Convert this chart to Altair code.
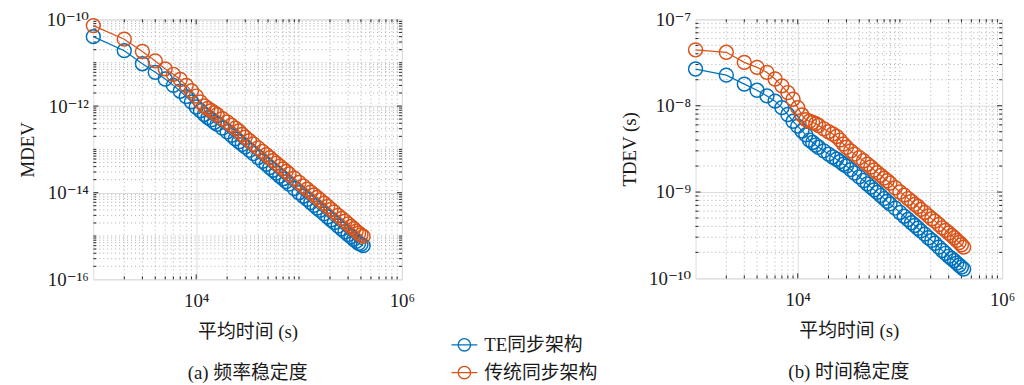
import math
import altair as alt
import pandas as pd

# ---------------- data ----------------
tau_s = [1000, 2000, 3000, 4000, 5000, 6000, 7000, 8000, 9000, 10000,
         11000, 12000, 13000, 14000, 15000, 16000, 18000, 20000, 22000, 24000,
         26000, 28000, 30000, 33000, 36000, 40000, 44000, 48000, 52000, 56000,
         60000, 65000, 70000, 75000, 80000, 90000, 100000, 110000, 120000, 130000,
         140000, 150000, 160000, 175000, 190000, 205000, 220000, 240000, 260000, 280000,
         300000, 320000, 340000, 360000, 380000, 400000, 420000]

mdev_te = [4.0e-11, 1.9e-11, 9.5e-12, 6.0e-12, 4.2e-12, 3.0e-12, 2.2e-12, 1.65e-12, 1.25e-12, 9.5e-13,
           7.8e-13, 6.4e-13, 5.4e-13, 4.8e-13, 4.2e-13, 3.8e-13, 3.1e-13, 2.55e-13, 2.1e-13, 1.75e-13,
           1.5e-13, 1.3e-13, 1.15e-13, 9.5e-14, 8.0e-14, 6.5e-14, 5.3e-14, 4.5e-14, 3.8e-14, 3.3e-14,
           2.85e-14, 2.4e-14, 2.1e-14, 1.8e-14, 1.58e-14, 1.25e-14, 1.0e-14, 8.3e-15, 7.0e-15, 5.9e-15,
           5.1e-15, 4.4e-15, 3.9e-15, 3.25e-15, 2.75e-15, 2.35e-15, 2.05e-15, 1.7e-15, 1.45e-15, 1.25e-15,
           1.08e-15, 9.6e-16, 8.4e-16, 7.5e-16, 6.8e-16, 6.4e-16, 6.0e-16]

mdev_trad = [7.2e-11, 3.5e-11, 1.82e-11, 1.1e-11, 7.2e-12, 5.4e-12, 4.1e-12, 3.0e-12, 2.25e-12, 1.7e-12,
             1.25e-12, 1.0e-12, 8.8e-13, 7.8e-13, 7.0e-13, 6.3e-13, 5.1e-13, 4.3e-13, 3.6e-13, 3.1e-13,
             2.65e-13, 2.2e-13, 1.9e-13, 1.58e-13, 1.33e-13, 1.08e-13, 9.0e-14, 7.5e-14, 6.4e-14, 5.5e-14,
             4.8e-14, 4.1e-14, 3.55e-14, 3.1e-14, 2.7e-14, 2.15e-14, 1.73e-14, 1.43e-14, 1.2e-14, 1.03e-14,
             8.9e-15, 7.8e-15, 6.8e-15, 5.7e-15, 4.8e-15, 4.1e-15, 3.6e-15, 3.0e-15, 2.55e-15, 2.2e-15,
             1.9e-15, 1.66e-15, 1.47e-15, 1.3e-15, 1.16e-15, 1.06e-15, 9.8e-16]

tdev_te = [2.66e-8, 2.26e-8, 1.78e-8, 1.51e-8, 1.30e-8, 1.13e-8, 9.5e-9, 7.9e-9, 6.6e-9, 5.8e-9,
           5.1e-9, 4.6e-9, 4.0e-9, 3.75e-9, 3.5e-9, 3.3e-9, 3.0e-9, 2.75e-9, 2.55e-9, 2.4e-9,
           2.25e-9, 2.1e-9, 2.0e-9, 1.82e-9, 1.66e-9, 1.5e-9, 1.36e-9, 1.24e-9, 1.14e-9, 1.06e-9,
           9.9e-10, 9.1e-10, 8.4e-10, 7.8e-10, 7.3e-10, 6.5e-10, 5.8e-10, 5.25e-10, 4.8e-10, 4.4e-10,
           4.1e-10, 3.8e-10, 3.55e-10, 3.25e-10, 2.95e-10, 2.75e-10, 2.55e-10, 2.3e-10, 2.1e-10, 1.95e-10,
           1.8e-10, 1.7e-10, 1.6e-10, 1.5e-10, 1.42e-10, 1.35e-10, 1.28e-10]

tdev_trad = [4.43e-8, 4.16e-8, 3.18e-8, 2.78e-8, 2.43e-8, 2.04e-8, 1.70e-8, 1.42e-8, 1.19e-8, 9.5e-9,
             7.8e-9, 6.9e-9, 6.6e-9, 6.4e-9, 6.2e-9, 5.9e-9, 5.4e-9, 5.0e-9, 4.7e-9, 4.4e-9,
             4.0e-9, 3.6e-9, 3.3e-9, 3.0e-9, 2.75e-9, 2.5e-9, 2.3e-9, 2.1e-9, 1.95e-9, 1.8e-9,
             1.68e-9, 1.56e-9, 1.45e-9, 1.35e-9, 1.27e-9, 1.12e-9, 1.0e-9, 9.2e-10, 8.4e-10, 7.8e-10,
             7.2e-10, 6.8e-10, 6.3e-10, 5.8e-10, 5.3e-10, 4.9e-10, 4.6e-10, 4.2e-10, 3.85e-10, 3.6e-10,
             3.35e-10, 3.15e-10, 2.95e-10, 2.75e-10, 2.6e-10, 2.45e-10, 2.3e-10]

series_names = ["TE同步架构", "传统同步架构"]
series_colors = ["#0072BD", "#D95319"]

x_domain = [1000, 1e6]
x_ticks = [1e4, 1e6]
left_y_domain = [1e-16, 1e-10]
left_y_ticks = [1e-16, 1e-14, 1e-12, 1e-10]
right_y_domain = [1e-10, 1e-7]
right_y_ticks = [1e-10, 1e-9, 1e-8, 1e-7]

x_title = "平均时间 (s)"
left_y_title = "MDEV"
right_y_title = "TDEV (s)"
left_caption = "(a) 频率稳定度"
right_caption = "(b) 时间稳定度"

# ---------------- helpers ----------------
FONT = "Liberation Serif, DejaVu Serif, Noto Sans CJK SC"
TXT = "#1a1a1a"
SUP = str.maketrans("-0123456789", "⁻⁰¹²³⁴⁵⁶⁷⁸⁹")


def pow_label_expr(values):
    expr = "''"
    for v in reversed(values):
        e = round(math.log10(v))
        lab = "10" + str(e).translate(SUP)
        expr = f"(abs(log(datum.value)/LN10 - ({e})) < 0.01 ? '{lab}' : {expr})"
    return expr


def minor_values(lo, hi, majors):
    out = []
    e0, e1 = round(math.log10(lo)), round(math.log10(hi))
    for e in range(e0, e1):
        for k in range(1, 10):
            v = k * 10.0 ** e
            if v <= lo * 1.0001 or v >= hi * 0.9999:
                continue
            if any(abs(math.log10(v) - math.log10(m)) < 1e-6 for m in majors):
                continue
            out.append(v)
    return out


def long_df(a, b):
    return pd.DataFrame({
        "tau": tau_s + tau_s,
        "value": a + b,
        "series": [series_names[0]] * len(tau_s) + [series_names[1]] * len(tau_s),
    })


LEG_PATH = "M-1,0L1,0M0.48,0A0.48,0.48,0,1,1,-0.48,0A0.48,0.48,0,1,1,0.48,0"

legend = alt.Legend(orient="none", legendX=360, legendY=314, title=None,
                    symbolType=LEG_PATH, symbolSize=676, symbolStrokeWidth=1.4,
                    labelFont=FONT, labelFontSize=19, labelColor=TXT, labelOffset=6,
                    rowPadding=4, padding=0)


def panel(df, y_title, y_domain, y_ticks, caption, w, h):
    xs = alt.Scale(type="log", domain=x_domain, nice=False)
    ys = alt.Scale(type="log", domain=y_domain, nice=False)
    x_axis = alt.Axis(values=x_ticks, labelExpr=pow_label_expr(x_ticks), title=x_title,
                      grid=True, gridColor="#dcdcdc", gridWidth=1, ticks=False, domain=False,
                      labelPadding=12, titlePadding=13, labelFontSize=19, titleFontSize=19,
                      labelFont=FONT, titleFont=FONT, labelColor=TXT, titleColor=TXT,
                      titleFontWeight="normal", labelFlush=False)
    y_axis = alt.Axis(values=y_ticks, labelExpr=pow_label_expr(y_ticks), title=y_title,
                      grid=True, gridColor="#dcdcdc", gridWidth=1, ticks=False, domain=False,
                      labelPadding=5, titlePadding=9, labelFontSize=19, titleFontSize=19,
                      labelFont=FONT, titleFont=FONT, labelColor=TXT, titleColor=TXT,
                      titleFontWeight="normal", labelFlush=False)

    xmin = pd.DataFrame({"v": minor_values(x_domain[0], x_domain[1], x_ticks)})
    ymin = pd.DataFrame({"v": minor_values(y_domain[0], y_domain[1], y_ticks)})
    xmaj = pd.DataFrame({"v": [t for t in x_ticks if x_domain[0] < t < x_domain[1]]})
    ymaj = pd.DataFrame({"v": [t for t in y_ticks if y_domain[0] < t < y_domain[1]]})

    grid_style = dict(strokeDash=[1, 3], color="#9a9a9a", strokeWidth=1, opacity=0.8)
    vgrid = alt.Chart(xmin).mark_rule(**grid_style).encode(x=alt.X("v:Q", scale=xs, axis=x_axis))
    hgrid = alt.Chart(ymin).mark_rule(**grid_style).encode(y=alt.Y("v:Q", scale=ys, axis=y_axis))

    tick_col = "#262626"
    ticks = []
    for data, ln in ((xmin, 3), (xmaj, 5)):
        ticks.append(alt.Chart(data).mark_rule(color=tick_col, strokeWidth=1).encode(
            x=alt.X("v:Q", scale=xs, axis=x_axis), y=alt.value(h), y2=alt.value(h - ln)))
        ticks.append(alt.Chart(data).mark_rule(color=tick_col, strokeWidth=1).encode(
            x=alt.X("v:Q", scale=xs, axis=x_axis), y=alt.value(0), y2=alt.value(ln)))
    for data, ln in ((ymin, 3), (ymaj, 5)):
        ticks.append(alt.Chart(data).mark_rule(color=tick_col, strokeWidth=1).encode(
            y=alt.Y("v:Q", scale=ys, axis=y_axis), x=alt.value(0), x2=alt.value(ln)))
        ticks.append(alt.Chart(data).mark_rule(color=tick_col, strokeWidth=1).encode(
            y=alt.Y("v:Q", scale=ys, axis=y_axis), x=alt.value(w), x2=alt.value(w - ln)))

    color = alt.Color("series:N", scale=alt.Scale(domain=series_names, range=series_colors),
                      legend=legend)
    base = alt.Chart(df).encode(
        x=alt.X("tau:Q", scale=xs, axis=x_axis),
        y=alt.Y("value:Q", scale=ys, axis=y_axis),
        color=color,
    )
    lines = base.mark_line(strokeWidth=1.2, clip=False)
    pts = base.mark_point(shape="circle", filled=False, size=196, strokeWidth=1.5, opacity=1)

    return alt.layer(vgrid, hgrid, *ticks, lines, pts).properties(
        width=w, height=h,
        title=alt.TitleParams(caption, orient="bottom", anchor="middle", frame="group",
                              font=FONT, fontSize=19, fontWeight="normal", color=TXT, offset=22),
    )


left = panel(long_df(mdev_te, mdev_trad), left_y_title, left_y_domain, left_y_ticks,
             left_caption, 311, 262)
right = panel(long_df(tdev_te, tdev_trad), right_y_title, right_y_domain, right_y_ticks,
              right_caption, 309, 261)

chart = alt.hconcat(left, right, spacing=296, bounds="flush").resolve_legend(
    color="shared").properties(
    padding={"left": 10, "top": 0, "right": 0, "bottom": 0}
).configure_view(stroke="#262626", strokeWidth=1.3).configure(background="white")

chart.save("out.html", embed_options={"renderer": "svg", "actions": False})
